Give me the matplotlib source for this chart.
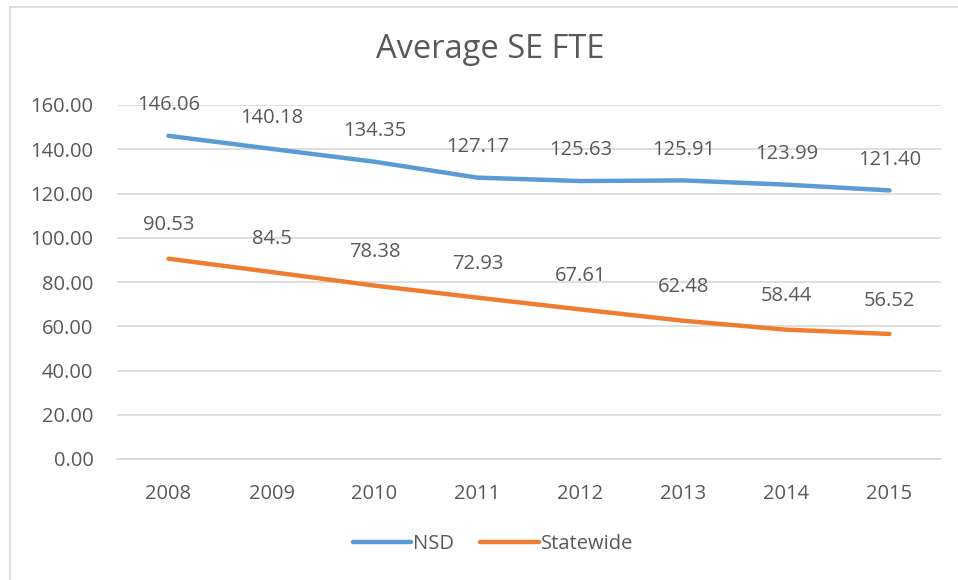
import matplotlib
matplotlib.use("Agg")
import matplotlib.pyplot as plt
from matplotlib.patches import Rectangle

years = ["2008", "2009", "2010", "2011", "2012", "2013", "2014", "2015"]
nsd = [146.06, 140.18, 134.35, 127.17, 125.63, 125.91, 123.99, 121.40]
nsd_labels = ["146.06", "140.18", "134.35", "127.17", "125.63", "125.91", "123.99", "121.40"]
statewide = [90.53, 84.5, 78.38, 72.93, 67.61, 62.48, 58.44, 56.52]
state_labels = ["90.53", "84.5", "78.38", "72.93", "67.61", "62.48", "58.44", "56.52"]
yticks = [0, 20, 40, 60, 80, 100, 120, 140, 160]

plt.rcParams['font.family'] = ['Open Sans', 'DejaVu Sans']
text_c = "#595959"
blue = "#5B9BD5"
orange = "#ED7D31"
fs = 14.5

fig = plt.figure(figsize=(9.58, 5.80), dpi=100)
fig.patches.append(Rectangle((10/958, -0.01), 1.0, 1 - 7/580 + 0.01, transform=fig.transFigure,
                             fill=False, edgecolor="#D9D9D9", linewidth=1.2))
ax = fig.add_axes([117/958, 1 - 459/580, (941 - 117)/958, (459 - 105)/580])

x = list(range(len(years)))
ax.plot(x, nsd, color=blue, linewidth=3.2, solid_capstyle="round", label="NSD", zorder=3)
ax.plot(x, statewide, color=orange, linewidth=3.2, solid_capstyle="round", label="Statewide", zorder=3)

for xi, v, s in zip(x, nsd, nsd_labels):
    ax.annotate(s, (xi, v), xytext=(0, 22), textcoords="offset points", ha="center", va="center",
                fontsize=fs, color=text_c)
for xi, v, s in zip(x, statewide, state_labels):
    ax.annotate(s, (xi, v), xytext=(0, 24), textcoords="offset points", ha="center", va="center",
                fontsize=fs, color=text_c)

ax.set_xlim(-0.5, len(years) - 0.5)
ax.set_ylim(0, 160)
ax.set_yticks(yticks)
ax.set_yticklabels([f"{v:.2f}" for v in yticks])
ax.set_xticks(x)
ax.set_xticklabels(years)
ax.tick_params(axis="both", length=0, labelsize=fs, labelcolor=text_c)
ax.tick_params(axis="y", pad=17)
ax.tick_params(axis="x", pad=18)
ax.grid(axis="y", color="#D9D9D9", linewidth=1.2)
ax.set_axisbelow(True)
for sp in ax.spines.values():
    sp.set_visible(False)
ax.spines["bottom"].set_visible(True)
ax.spines["bottom"].set_color("#D9D9D9")
ax.spines["bottom"].set_linewidth(1.2)

fig.text(490/958, 1 - 50/580, "Average SE FTE", ha="center", va="center", fontsize=23.5, color=text_c)
leg = fig.legend(loc="center", bbox_to_anchor=(493/958, 1 - 544/580), ncol=2, frameon=False,
                 fontsize=fs, handlelength=2.9, handletextpad=0.1, columnspacing=1.3)
for t in leg.get_texts():
    t.set_color(text_c)

fig.savefig("out.png", dpi=100)
